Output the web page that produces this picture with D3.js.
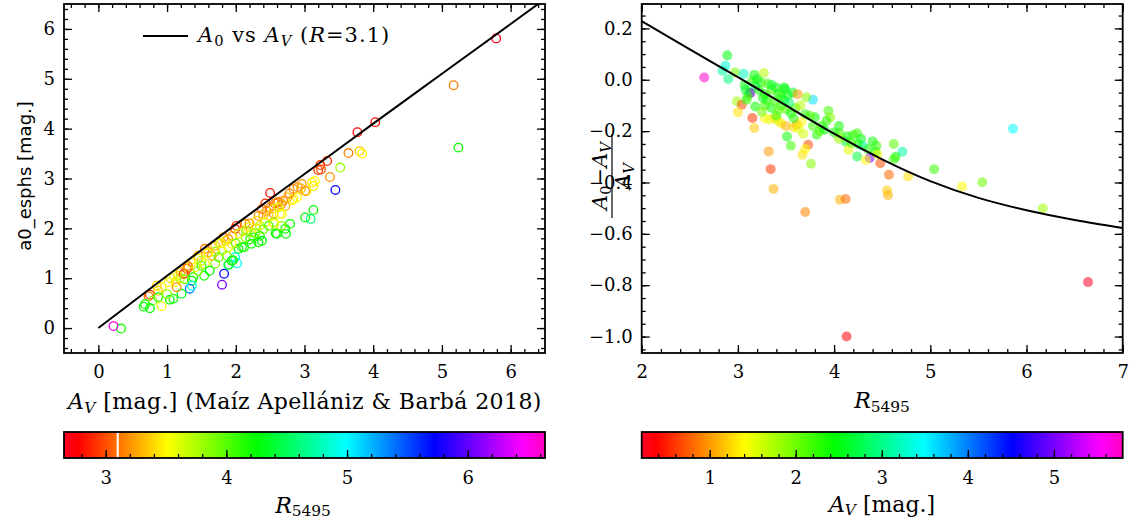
<!DOCTYPE html>
<html>
<head>
<meta charset="utf-8">
<script src="https://cdn.jsdelivr.net/npm/d3@7"></script>
<style>
  body { margin: 0; background: #fff; }
  svg { display: block; }
  text { font-family: "DejaVu Serif", serif; fill: #000; }
</style>
</head>
<body>
<svg id="fig" width="1139" height="521"></svg>
<script>
// ---- Left panel: stars, A_V (x), a0_esphs (y), R_5495 (colour) ----
const leftAv = [5.79,5.17,4.03,3.77,5.24,3.64,3.80,3.84,3.52,3.33,
  3.23,3.20,3.24,3.37,3.45,3.15,3.11,3.03,2.96,2.84,
  2.90,2.89,2.82,2.50,2.43,2.57,2.62,2.66,2.69,2.72,
  3.13,3.01,3.09,3.01,3.13,2.84,2.60,2.50,2.45,2.55,
  2.40,2.48,2.67,2.38,2.33,2.79,2.72,2.73,2.58,2.55,
  2.43,2.01,1.99,2.14,2.18,2.10,2.23,2.30,2.26,2.35,
  2.38,2.33,2.21,2.14,2.09,2.04,1.89,1.82,1.75,1.89,
  1.94,1.55,1.70,1.80,1.99,1.80,1.83,2.02,1.89,1.94,
  2.12,1.87,1.70,1.55,1.54,1.62,1.60,1.65,1.46,1.41,
  1.26,1.29,1.16,1.19,1.12,1.36,1.38,1.33,1.36,1.21,
  1.09,1.04,1.02,0.92,0.87,0.75,0.73,0.87,0.92,0.79,
  0.75,0.66,0.68,0.33,0.22,1.31,1.24,1.14,1.96,1.90,
  2.23,2.60,2.66,2.56,2.64,1.05,1.10,1.20,1.30,1.35,
  1.45,1.50,1.60,1.70,1.78,1.85,1.95,2.05,2.20,2.30,
  2.35,2.15,2.28,2.40,2.48,2.95,2.75,2.78,2.55,2.62,
  1.25,1.45,1.50,1.75,2.00,1.00,0.85];
const leftA0 = [5.81,4.87,4.13,3.93,3.62,3.51,3.55,3.50,3.22,3.35,
  3.27,3.17,3.18,3.03,2.77,2.95,2.92,2.75,2.89,2.79,
  2.83,2.62,2.57,2.71,2.50,2.50,2.53,2.48,2.55,2.45,
  2.37,2.22,2.19,2.75,2.85,2.59,2.52,2.42,2.35,2.30,
  2.28,2.25,2.29,2.39,2.25,2.09,1.99,1.89,1.90,2.12,
  2.12,2.05,1.99,2.09,2.02,1.95,1.92,2.00,1.82,1.85,
  1.75,1.72,1.78,1.82,1.62,1.59,1.79,1.82,1.72,1.62,
  1.69,1.59,1.53,1.55,1.42,0.87,1.09,1.30,1.27,1.35,
  1.62,1.45,1.29,1.29,1.05,1.15,1.52,1.45,1.39,1.22,
  1.09,1.19,1.05,1.00,0.92,0.95,1.02,0.79,0.85,0.69,
  0.59,0.57,0.92,0.82,0.75,0.67,0.64,0.62,0.44,0.55,
  0.40,0.43,0.48,-0.01,0.04,1.22,1.09,0.82,1.36,1.27,
  1.69,1.89,2.05,2.09,2.29,1.00,1.05,1.12,1.25,1.30,
  1.45,1.35,1.50,1.65,1.70,1.75,1.85,1.90,2.10,2.15,
  2.05,1.95,1.90,1.98,2.05,2.80,2.62,2.70,2.40,2.42,
  0.98,1.15,1.25,1.42,1.70,0.68,0.85];
const leftR = [2.70,3.13,2.80,2.80,4.20,3.15,3.35,3.50,3.80,2.90,
  2.95,2.95,3.00,3.20,5.75,3.50,3.45,3.50,3.20,3.15,
  3.20,3.50,3.45,2.85,2.90,3.10,3.15,3.20,3.15,3.30,
  4.20,4.25,4.60,3.20,3.45,3.50,3.15,3.15,3.25,3.20,
  3.30,3.35,3.50,3.10,3.20,4.20,4.20,4.25,4.20,3.80,
  3.50,2.95,2.85,3.20,3.50,3.25,3.55,3.45,4.10,4.20,
  4.25,4.20,4.15,3.85,4.20,4.25,3.20,3.15,3.35,3.55,
  3.50,3.15,3.80,3.50,4.90,6.10,5.70,4.95,4.50,4.25,
  4.20,3.85,3.80,3.50,4.20,4.25,3.25,3.25,3.50,3.55,
  3.15,2.95,3.50,3.75,3.50,4.25,4.20,5.40,4.95,4.30,
  4.20,4.25,3.50,3.50,3.35,2.95,3.15,4.20,3.50,3.85,
  4.25,4.20,4.20,4.20,6.50,3.15,2.95,3.20,4.30,4.40,
  4.20,4.25,3.80,3.50,3.50,3.40,3.60,3.30,3.20,3.50,
  3.30,3.70,3.50,3.30,3.60,3.40,3.30,3.60,3.20,3.40,
  3.70,3.80,3.90,3.90,4.00,3.30,3.30,3.15,3.40,3.60,
  3.90,3.80,4.00,4.00,3.90,3.80,3.40];

// A0 versus A_V relation for R = 3.1
const relAv = [0, 1, 2, 3, 4, 5, 6, 6.6];
const relA0 = [0, 1.05, 2.08, 3.09, 4.10, 5.10, 6.10, 6.70];

// ---- Right panel: R_5495 (x), (A0 - A_V)/A_V (y), A_V (colour) ----
const rightR = [2.65,2.89,2.87,2.84,2.90,2.97,3.06,3.17,3.27,3.24,
  3.31,3.18,3.07,3.12,3.13,3.22,3.28,3.35,3.42,3.48,
  3.45,3.52,3.57,2.99,3.04,3.09,3.18,3.00,3.15,3.17,
  3.28,3.33,3.38,3.42,3.28,3.35,3.42,3.45,3.50,3.55,
  3.60,3.78,3.62,3.71,3.49,3.94,3.96,3.92,3.80,3.75,
  3.70,3.61,3.58,3.63,3.66,3.51,3.55,3.73,3.70,3.67,
  3.76,3.32,3.34,3.37,3.82,4.00,4.06,4.14,4.12,4.20,
  4.24,4.28,4.30,4.44,4.43,4.62,4.71,4.64,4.62,4.24,
  4.15,4.37,4.33,4.45,4.48,4.57,4.77,5.04,5.33,5.54,
  5.86,4.55,4.56,4.06,4.12,3.70,6.17,6.64,4.13,3.87,
  3.85,3.90,4.05,3.30,3.38,3.26,3.40,3.15,3.20,3.10,
  3.48,3.53,3.65,3.58,3.40,3.45,3.50,3.68,3.78,4.25,
  4.18,4.35,4.40,4.05,3.25,3.08,3.35];
const rightFrac = [0.009,0.095,0.055,0.035,0.003,0.028,0.023,0.019,0.026,-0.010,
  -0.015,-0.026,-0.020,-0.050,-0.052,-0.040,-0.055,-0.040,-0.055,-0.030,
  -0.065,-0.060,-0.050,-0.084,-0.097,-0.078,-0.104,-0.127,-0.149,-0.188,
  -0.150,-0.155,-0.150,-0.160,-0.100,-0.110,-0.120,-0.100,-0.115,-0.130,
  -0.110,-0.078,-0.056,-0.068,-0.036,-0.121,-0.147,-0.160,-0.146,-0.140,
  -0.134,-0.175,-0.185,-0.190,-0.165,-0.221,-0.257,-0.253,-0.270,-0.292,
  -0.327,-0.279,-0.348,-0.425,-0.214,-0.205,-0.210,-0.220,-0.240,-0.215,
  -0.208,-0.230,-0.258,-0.257,-0.280,-0.250,-0.280,-0.300,-0.310,-0.299,
  -0.273,-0.305,-0.312,-0.290,-0.325,-0.370,-0.377,-0.348,-0.416,-0.399,
  -0.191,-0.431,-0.450,-0.467,-0.464,-0.515,-0.500,-0.788,-1.000,-0.180,
  -0.200,-0.195,-0.180,-0.080,-0.085,-0.070,-0.030,-0.005,0.002,-0.065,
  -0.080,-0.090,-0.100,-0.150,-0.140,-0.170,-0.180,-0.210,-0.180,-0.250,
  -0.245,-0.270,-0.240,-0.230,-0.125,-0.040,-0.020];
const rightAv = [5.78,2.5,3.3,3.1,3.0,2.0,3.2,2.4,1.7,2.3,
  2.2,2.9,2.5,2.4,5.1,2.4,2.3,2.2,2.4,2.5,
  2.3,2.4,2.6,1.8,0.7,2.3,2.4,1.3,0.6,1.2,
  1.4,1.5,1.3,1.6,2.2,2.4,2.0,2.3,2.1,2.4,
  2.2,3.6,1.0,1.9,2.5,2.2,1.9,2.3,2.4,2.1,
  2.3,0.9,1.3,1.5,1.4,2.4,2.2,0.7,1.4,1.3,
  1.9,1.0,0.6,1.1,2.3,2.4,2.2,2.4,2.6,2.3,
  2.2,2.5,3.2,2.2,2.4,2.1,3.1,2.4,2.2,2.7,
  1.5,5.0,1.4,1.5,0.7,0.8,1.3,2.2,1.4,2.0,
  3.5,1.2,1.1,1.1,0.8,0.9,1.8,0.22,0.35,2.3,
  2.1,2.5,2.4,2.3,2.2,2.5,2.4,2.3,2.5,2.2,
  2.6,2.8,1.7,2.3,2.2,1.3,1.1,1.6,2.2,2.4,
  2.2,2.3,2.4,1.8,2.0,2.6,2.6];

// Model curve (A0 - A_V)/A_V against R
const curveR = [2, 2.5, 3, 3.5, 4, 4.5, 5, 5.5, 6, 6.5, 7];
const curveFrac = [0.228, 0.118, 0.010, -0.100, -0.210, -0.310, -0.395, -0.460, -0.508, -0.546, -0.577];

// Tick values
const leftXTicks = [0, 1, 2, 3, 4, 5, 6];
const leftYTicks = [0, 1, 2, 3, 4, 5, 6];
const rightXTicks = [2, 3, 4, 5, 6, 7];
const rightYTicks = [-1.0, -0.8, -0.6, -0.4, -0.2, 0.0, 0.2];
const cbarRTicks = [3, 4, 5, 6];
const cbarAvTicks = [1, 2, 3, 4, 5];
const rReference = 3.1;

// Colour ranges of the two colour bars
const rRange = [2.655, 6.64];
const avRange = [0.21, 5.80];

// gist_rainbow style colour map
const mapPos = [0, 0.03, 0.215, 0.4, 0.586, 0.77, 0.954, 1];
const mapCol = ["#ff0029", "#ff0000", "#ffff00", "#00ff00", "#00ffff", "#0000ff", "#ff00ff", "#ff00bf"];
const rainbow = d3.scaleLinear().domain(mapPos).range(mapCol).interpolate(d3.interpolateRgb).clamp(true);
const colorFor = range => v => rainbow((v - range[0]) / (range[1] - range[0]));
const colorR = colorFor(rRange);
const colorAv = colorFor(avRange);

const svg = d3.select("#fig");
const TICK_FONT = 18;
const minusFmt = d => (d < 0 ? "\u2212" : "") + Math.abs(d).toFixed(1);

function seq(a, b, step) {
  const out = [];
  const n = Math.round((b - a) / step);
  for (let i = 0; i <= n; i++) out.push(+(a + i * step).toFixed(6));
  return out;
}

function styleAxis(g) {
  g.attr("font-size", null).attr("font-family", null);
  g.select(".domain").remove();
  g.selectAll(".tick line").attr("stroke", "#000").attr("stroke-width", 1.3);
  g.selectAll(".tick text").attr("fill", "#000").style("font-size", TICK_FONT + "px");
}

// Frame with inward major/minor ticks on all four sides
function drawFrame(x, y, xMajor, xMinor, yMajor, yMinor, fx, fy) {
  const [x0, x1] = x.range();
  const [y1, y0] = y.range();
  const g = svg.append("g");
  const ax = [
    [d3.axisBottom(x).tickValues(xMajor).tickSize(-8).tickPadding(12).tickFormat(fx), `translate(0,${y1})`],
    [d3.axisBottom(x).tickValues(xMinor).tickSize(-4).tickFormat(""), `translate(0,${y1})`],
    [d3.axisTop(x).tickValues(xMajor).tickSize(-8).tickFormat(""), `translate(0,${y0})`],
    [d3.axisTop(x).tickValues(xMinor).tickSize(-4).tickFormat(""), `translate(0,${y0})`],
    [d3.axisLeft(y).tickValues(yMajor).tickSize(-8).tickPadding(9).tickFormat(fy), `translate(${x0},0)`],
    [d3.axisLeft(y).tickValues(yMinor).tickSize(-4).tickFormat(""), `translate(${x0},0)`],
    [d3.axisRight(y).tickValues(yMajor).tickSize(-8).tickFormat(""), `translate(${x1},0)`],
    [d3.axisRight(y).tickValues(yMinor).tickSize(-4).tickFormat(""), `translate(${x1},0)`]
  ];
  ax.forEach(([a, t]) => g.append("g").attr("transform", t).call(a).call(styleAxis));
  g.append("rect").attr("x", x0).attr("y", y0).attr("width", x1 - x0).attr("height", y1 - y0)
    .attr("fill", "none").attr("stroke", "#000").attr("stroke-width", 1.8);
}

function clipFor(id, x, y) {
  const [x0, x1] = x.range();
  const [y1, y0] = y.range();
  svg.append("clipPath").attr("id", id).append("rect")
    .attr("x", x0).attr("y", y0).attr("width", x1 - x0).attr("height", y1 - y0);
  return `url(#${id})`;
}

// Rich text helper: parts = [{t, it, sub}]
function richText(sel, parts, size, shiftFrac) {
  const subSize = size * 0.7;
  const shift = size * (shiftFrac === undefined ? 0.2 : shiftFrac);
  let down = false;
  sel.style("font-size", size + "px");
  parts.forEach(p => {
    const ts = sel.append("tspan").text(p.t);
    if (p.it) ts.attr("font-style", "italic");
    if (p.sub && !down) { ts.attr("dy", shift); down = true; }
    else if (!p.sub && down) { ts.attr("dy", -shift); down = false; }
    ts.style("font-size", (p.sub ? subSize : size) + "px");
  });
  return sel;
}

// ================= Left panel =================
const xL = d3.scaleLinear().domain([-0.5, 6.5]).range([64, 545]);
const yL = d3.scaleLinear().domain([-0.5, 6.5]).range([353, 4]);
const clipL = clipFor("clipL", xL, yL);

svg.append("g").attr("clip-path", clipL).selectAll("circle")
  .data(d3.range(leftAv.length)).join("circle")
  .attr("cx", i => xL(leftAv[i])).attr("cy", i => yL(leftA0[i])).attr("r", 4.3)
  .attr("fill", "none").attr("stroke", i => colorR(leftR[i])).attr("stroke-width", 1.3);

svg.append("path").attr("clip-path", clipL)
  .datum(d3.range(relAv.length))
  .attr("d", d3.line().x(i => xL(relAv[i])).y(i => yL(relA0[i])).curve(d3.curveMonotoneX))
  .attr("fill", "none").attr("stroke", "#000").attr("stroke-width", 2);

drawFrame(xL, yL, leftXTicks, seq(-0.4, 6.4, 0.2), leftYTicks, seq(-0.4, 6.4, 0.2), d3.format("d"), d3.format("d"));

// legend
svg.append("line").attr("x1", 143).attr("x2", 188).attr("y1", 36).attr("y2", 36)
  .attr("stroke", "#000").attr("stroke-width", 2);
richText(svg.append("text").attr("x", 198).attr("y", 42).style("letter-spacing", "1px"), [
  {t: "A", it: true}, {t: "0", sub: true}, {t: " vs "}, {t: "A", it: true}, {t: "V", it: true, sub: true},
  {t: " ("}, {t: "R", it: true}, {t: "=3.1)"}
], 21);

// axis labels
richText(svg.append("text").attr("x", 68).attr("y", 409).style("letter-spacing", "0.4px"), [
  {t: "A", it: true}, {t: "V", it: true, sub: true}, {t: " [mag.] (Maíz Apellániz & Barbá 2018)"}
], 22);
svg.append("text").attr("transform", "translate(31,176) rotate(-90)")
  .attr("text-anchor", "middle").style("font-family", "'DejaVu Sans', sans-serif").style("font-size", "18px")
  .text("a0_esphs [mag.]");

// ================= Right panel =================
const xR = d3.scaleLinear().domain([2, 7]).range([641.7, 1122.7]);
const yR = d3.scaleLinear().domain([-1.064, 0.295]).range([353, 4]);
const clipR = clipFor("clipR", xR, yR);

svg.append("g").attr("clip-path", clipR).selectAll("circle")
  .data(d3.range(rightR.length)).join("circle")
  .attr("cx", i => xR(rightR[i])).attr("cy", i => yR(rightFrac[i])).attr("r", 5)
  .attr("fill", i => colorAv(rightAv[i])).attr("fill-opacity", 0.55);

svg.append("path").attr("clip-path", clipR)
  .datum(d3.range(curveR.length))
  .attr("d", d3.line().x(i => xR(curveR[i])).y(i => yR(curveFrac[i])).curve(d3.curveNatural))
  .attr("fill", "none").attr("stroke", "#000").attr("stroke-width", 2);

drawFrame(xR, yR, rightXTicks, seq(2, 7, 0.2), rightYTicks, seq(-1.05, 0.25, 0.05), d3.format("d"), minusFmt);

richText(svg.append("text").attr("x", 882).attr("y", 408).attr("text-anchor", "middle"), [
  {t: "R", it: true}, {t: "5495", sub: true}
], 22);

// fraction label on the right y axis
const frac = svg.append("g").attr("transform", "translate(612,176) rotate(-90)");
richText(frac.append("text").attr("x", 0).attr("y", -5).attr("text-anchor", "middle"), [
  {t: "A", it: true}, {t: "0", sub: true}, {t: "\u2212"}, {t: "A", it: true}, {t: "V", it: true, sub: true}
], 21);
frac.append("line").attr("x1", -42).attr("x2", 42).attr("y1", 0).attr("y2", 0)
  .attr("stroke", "#000").attr("stroke-width", 1.2);
richText(frac.append("text").attr("x", 0).attr("y", 18).attr("text-anchor", "middle"), [
  {t: "A", it: true}, {t: "V", it: true, sub: true}
], 21);

// ================= Colour bars =================
const defs = svg.append("defs");
const grad = defs.append("linearGradient").attr("id", "rainbowGrad").attr("x1", "0%").attr("x2", "100%");
mapPos.forEach((p, i) => grad.append("stop").attr("offset", (p * 100) + "%").attr("stop-color", mapCol[i]));

function colorBar(x0, x1, domain, ticks, minorStep, marker) {
  const yTop = 432, yBot = 458;
  const x = d3.scaleLinear().domain(domain).range([x0, x1]);
  svg.append("rect").attr("x", x0).attr("y", yTop).attr("width", x1 - x0).attr("height", yBot - yTop)
    .attr("fill", "url(#rainbowGrad)");
  if (marker !== undefined) {
    svg.append("line").attr("x1", x(marker)).attr("x2", x(marker)).attr("y1", yTop).attr("y2", yBot)
      .attr("stroke", "#fff").attr("stroke-width", 2);
  }
  const start = Math.ceil(domain[0] / minorStep) * minorStep;
  const minors = seq(start, Math.floor(domain[1] / minorStep) * minorStep, minorStep);
  svg.append("g").attr("transform", `translate(0,${yBot})`)
    .call(d3.axisBottom(x).tickValues(minors).tickSize(-4).tickFormat("")).call(styleAxis);
  svg.append("g").attr("transform", `translate(0,${yBot})`)
    .call(d3.axisBottom(x).tickValues(ticks).tickSize(-8).tickPadding(13).tickFormat(d3.format("d"))).call(styleAxis);
  svg.append("rect").attr("x", x0).attr("y", yTop).attr("width", x1 - x0).attr("height", yBot - yTop)
    .attr("fill", "none").attr("stroke", "#000").attr("stroke-width", 1.8);
}

colorBar(64, 545, rRange, cbarRTicks, 0.2, rReference);
colorBar(641.7, 1122.7, avRange, cbarAvTicks, 0.2);

richText(svg.append("text").attr("x", 303).attr("y", 513).attr("text-anchor", "middle"), [
  {t: "R", it: true}, {t: "5495", sub: true}
], 22, 0.15);
richText(svg.append("text").attr("x", 882).attr("y", 512).attr("text-anchor", "middle"), [
  {t: "A", it: true}, {t: "V", it: true, sub: true}, {t: " [mag.]"}
], 22, 0.15);
</script>
</body>
</html>
